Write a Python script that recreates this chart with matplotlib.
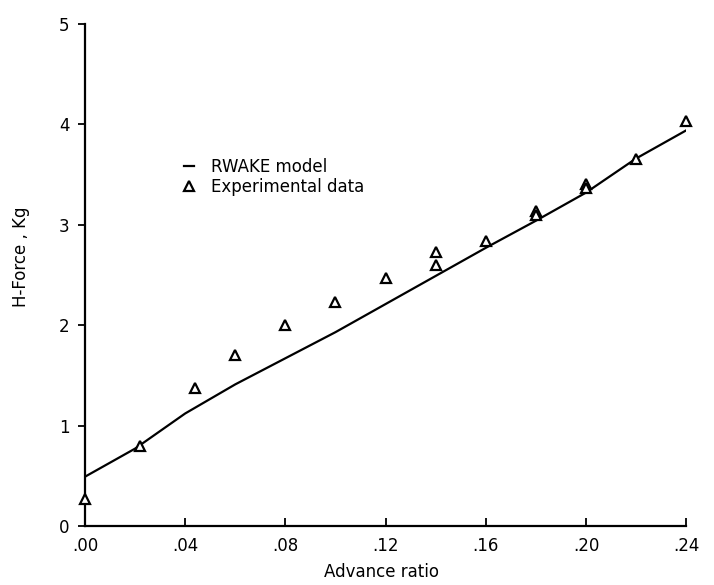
import numpy as np
import matplotlib
matplotlib.use("Agg")
import matplotlib.pyplot as plt
from matplotlib.lines import Line2D

# RWAKE model curve
model_x = [0.00, 0.02, 0.04, 0.06, 0.08, 0.10, 0.12, 0.14, 0.16, 0.18, 0.20, 0.22, 0.24]
model_y = [0.49, 0.77, 1.12, 1.41, 1.67, 1.93, 2.21, 2.49, 2.77, 3.04, 3.32, 3.66, 3.94]

# experimental points
exp_x = [0.000, 0.022, 0.044, 0.060, 0.080, 0.100, 0.120, 0.140, 0.140, 0.160,
         0.180, 0.180, 0.200, 0.200, 0.220, 0.240]
exp_y = [0.27, 0.80, 1.37, 1.70, 2.00, 2.23, 2.47, 2.73, 2.60, 2.84,
         3.14, 3.10, 3.41, 3.37, 3.66, 4.03]

xticks = [0.00, 0.04, 0.08, 0.12, 0.16, 0.20, 0.24]
xtick_labels = [".00", ".04", ".08", ".12", ".16", ".20", ".24"]
yticks = [0, 1, 2, 3, 4, 5]

fig = plt.figure(figsize=(7.14, 5.85), dpi=100)
ax = fig.add_axes([0.119, 0.101, 0.842, 0.858])

ax.plot(model_x, model_y, color="black", lw=1.6)
ax.plot(exp_x, exp_y, linestyle="none", marker="^", markersize=6.5,
        markerfacecolor="white", markeredgecolor="black", markeredgewidth=1.6,
        clip_on=False, zorder=3)

ax.set_xlim(0, 0.24)
ax.set_ylim(0, 5)
ax.set_xticks(xticks)
ax.set_xticklabels(xtick_labels)
ax.set_yticks(yticks)

for s in ["top", "right"]:
    ax.spines[s].set_visible(False)
for s in ["left", "bottom"]:
    ax.spines[s].set_linewidth(1.6)

ax.tick_params(axis="x", direction="in", length=6, width=1.3, pad=8, labelsize=12)
ax.tick_params(axis="y", direction="out", length=5, width=1.3, pad=6, labelsize=12)

ax.set_xlabel("Advance ratio", fontsize=12)
ax.set_ylabel("H-Force , Kg", fontsize=12)
ax.xaxis.set_label_coords(0.494, -0.074)
ax.yaxis.set_label_coords(-0.092, 0.536)

handles = [
    Line2D([], [], color="black", lw=1.6),
    Line2D([], [], linestyle="none", marker="^", markersize=6.5,
           markerfacecolor="white", markeredgecolor="black", markeredgewidth=1.6),
]
ax.legend(handles, ["RWAKE model", "Experimental data"], loc="center left",
          bbox_to_anchor=(0.14, 0.695), frameon=False, fontsize=12,
          handlelength=0.6, handletextpad=1.0, labelspacing=0.1)

fig.savefig("out.png", dpi=100)
